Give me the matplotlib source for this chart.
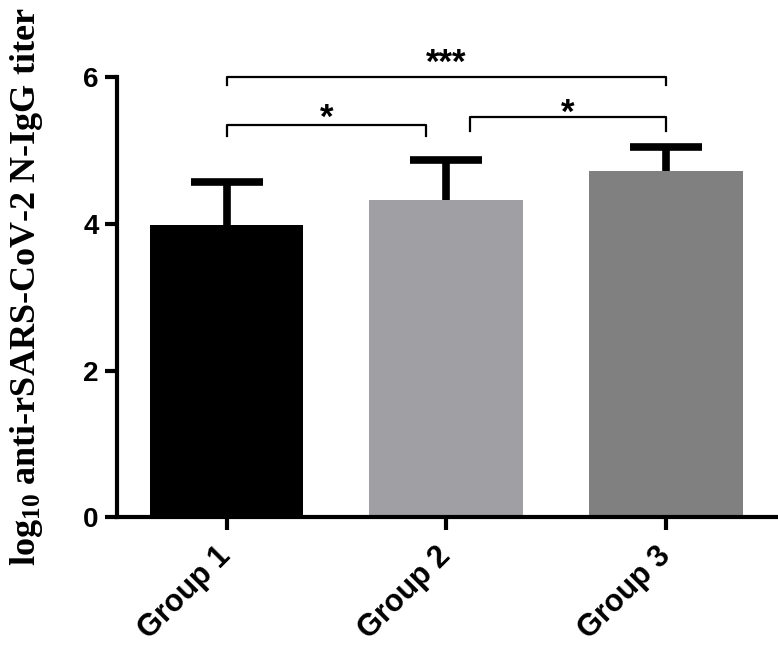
import matplotlib
matplotlib.use("Agg")
from matplotlib import pyplot as plt

groups = ["Group 1", "Group 2", "Group 3"]
means = [3.99, 4.33, 4.73]
sd = [0.58, 0.55, 0.32]
colors = ["#000000", "#a0a0a4", "#808080"]

# significance brackets: (left x, right x, bar y, end y, label, label y)
brackets = [(0, 2, 6.0, 5.89, "***", 6.19),
            (0, 0.91, 5.35, 5.2, "*", 5.44),
            (1.11, 2.0, 5.46, 5.27, "*", 5.51)]

plt.rcParams['font.family'] = ['Liberation Sans', 'DejaVu Sans']
plt.rcParams['mathtext.fontset'] = 'custom'
plt.rcParams['mathtext.rm'] = 'Liberation Serif:bold'
plt.rcParams['mathtext.bf'] = 'Liberation Serif:bold'
plt.rcParams['mathtext.it'] = 'Liberation Serif:bold'

fig = plt.figure(figsize=(7.78, 6.45), dpi=100)
ax = fig.add_axes([0.150, 0.198, 0.850, 0.682])

x = list(range(len(groups)))
ax.bar(x, means, width=0.7, color=colors, zorder=2)
eb = ax.errorbar(x, means, yerr=[[0, 0, 0], sd], fmt='none', ecolor='black',
                 elinewidth=5.5, capsize=26, capthick=5.5, zorder=3)
eb[1][0].set_visible(False)  # no lower caps

for x1, x2, yb, ye, lab, ly in brackets:
    ax.plot([x1, x1, x2, x2], [ye, yb, yb, ye], color='black', lw=1.6,
            clip_on=False)
    ax.text((x1 + x2) / 2, ly, lab, ha='center', va='center', fontsize=25,
            fontweight='bold')

ax.set_xlim(-0.5, 2.51)
ax.set_ylim(0, 6)
ax.set_yticks([0, 2, 4, 6])
ax.set_xticks(x)
ax.set_xticklabels(groups, rotation=45, ha='right', va='center',
                   rotation_mode='anchor')
for lab in ax.get_xticklabels():
    lab.set_fontsize(22)
    lab.set_fontweight('bold')
for lab in ax.get_yticklabels():
    lab.set_fontsize(20)
    lab.set_fontweight('bold')

for s in ['top', 'right']:
    ax.spines[s].set_visible(False)
for s in ['left', 'bottom']:
    ax.spines[s].set_linewidth(3)
ax.tick_params(width=3, length=9, pad=4)
ax.tick_params(axis='x', pad=16)

ax.set_ylabel(r"$\mathbf{log_{10}}$ anti-rSARS-CoV-2 N-IgG titer",
              fontsize=26, fontweight='bold', family='Liberation Serif')
ax.yaxis.set_label_coords(-0.108, 0.525)

fig.savefig("out.png", dpi=100)
